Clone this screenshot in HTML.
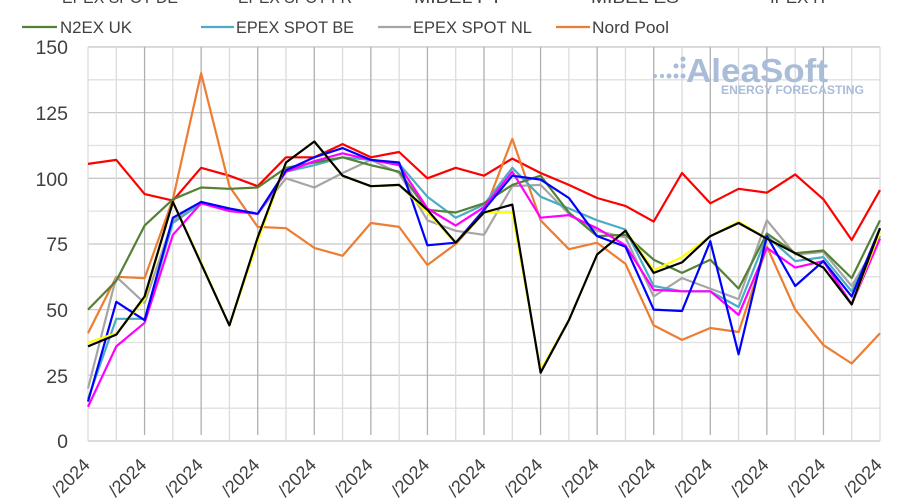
<!DOCTYPE html>
<html><head><meta charset="utf-8"><style>
html,body{margin:0;padding:0;background:#fff;width:900px;height:500px;overflow:hidden}
svg{display:block}
text{font-family:"Liberation Sans",sans-serif}
</style></head><body>
<svg id="c" width="900" height="500" xmlns="http://www.w3.org/2000/svg">
<g id="grid"></g>
<g font-weight="bold" fill="#a9bcd8">
 <circle cx="683" cy="59" r="2.5"/>
 <circle cx="676" cy="66" r="2.5"/><circle cx="683" cy="66" r="2.5"/>
 <circle cx="655" cy="76" r="2"/><circle cx="662" cy="76" r="2"/><circle cx="669" cy="76" r="2.5"/><circle cx="676" cy="76" r="2.5"/><circle cx="683" cy="76" r="2.5"/>
 <text x="686" y="82" font-size="33" textLength="142" lengthAdjust="spacingAndGlyphs">AleaSoft</text>
 <text x="721" y="94" font-size="11.5" textLength="143" lengthAdjust="spacingAndGlyphs">ENERGY FORECASTING</text>
</g>
<g id="series" fill="none" stroke-width="2.2" stroke-linejoin="round"></g>
<g fill="#404040" font-size="19.5" text-anchor="end">
 <text x="68" y="54">150</text><text x="68" y="120">125</text><text x="68" y="186">100</text>
 <text x="68" y="251">75</text><text x="68" y="317">50</text><text x="68" y="383">25</text><text x="68" y="448">0</text>
</g>
<g id="xl" fill="#404040" font-size="18" text-anchor="end"></g>
<g fill="#404040" font-size="17">
 <text x="62" y="3" textLength="116" lengthAdjust="spacingAndGlyphs">EPEX SPOT DE</text>
 <text x="238" y="3" textLength="114" lengthAdjust="spacingAndGlyphs">EPEX SPOT FR</text>
 <text x="414" y="3" textLength="88" lengthAdjust="spacingAndGlyphs">MIBEL PT</text>
 <text x="591" y="3" textLength="88" lengthAdjust="spacingAndGlyphs">MIBEL ES</text>
 <text x="770" y="3" textLength="58" lengthAdjust="spacingAndGlyphs">IPEX IT</text>
 <line x1="22" y1="27" x2="57" y2="27" stroke="#538135" stroke-width="2.2"/>
 <text x="60" y="33" textLength="72" lengthAdjust="spacingAndGlyphs">N2EX UK</text>
 <line x1="201" y1="27" x2="234" y2="27" stroke="#4bacc6" stroke-width="2.2"/>
 <text x="236" y="33" textLength="118" lengthAdjust="spacingAndGlyphs">EPEX SPOT BE</text>
 <line x1="378" y1="27" x2="411" y2="27" stroke="#a5a5a5" stroke-width="2.2"/>
 <text x="413" y="33" textLength="119" lengthAdjust="spacingAndGlyphs">EPEX SPOT NL</text>
 <line x1="556" y1="27" x2="590" y2="27" stroke="#ed7d31" stroke-width="2.2"/>
 <text x="592" y="33" textLength="77" lengthAdjust="spacingAndGlyphs">Nord Pool</text>
</g>
</svg>
<script>
var NS="http://www.w3.org/2000/svg";
function el(t,a,p){var e=document.createElementNS(NS,t);for(var k in a)e.setAttribute(k,a[k]);p.appendChild(e);return e;}
var X0=88,DX=28.286,Y0=441,K=2.627;
var g=document.getElementById('grid');
for(var i=0;i<=12;i++){var y=Y0-i*12.5*K;el('line',{x1:X0,x2:880,y1:y,y2:y,stroke:i%2==0?'#c8c8c8':'#e0e0e0','stroke-width':1.3},g);}
for(var i=0;i<=28;i++){var x=X0+i*DX;var dark=(i%2==0&&i>0&&i<28);el('line',{x1:x,x2:x,y1:47,y2:dark?435:441,stroke:dark?'#b0b0b0':'#dcdcdc','stroke-width':1.3},g);}
var S=[
['#ff0000',[105.5,107,94,91.5,104,101,97,108,108,113,108,110,100,104,101,107.5,102,97.5,92.5,89.5,83.5,102,90.5,96,94.5,101.5,92,76.5,95.5]],
['#ed7d31',[41,62.5,62,92,140,97,81.5,81,73.5,70.5,83,81.5,67,75,87,115,84,73,75.5,67.5,44,38.5,43,41.5,74,50,36.5,29.5,41]],
['#a5a5a5',[20,62.5,52.5,84,91,88,86.5,100,96.5,102,107,102,84,80,78.5,97,97.5,86.5,80,77.5,55,62,58,54,84,71,72,59,77]],
['#4bacc6',[16,46.5,46.5,83,90.5,88,86.5,102.5,105,108,107,105.5,93,85,90,104,93,88.5,84,80.5,59,57,57,51,78,68.5,70,57,78]],
['#538135',[50,61,82,92,96.5,96,96.5,104,106,108,105,102.5,88,87,90.5,97.5,101,87,78,78.5,69,64,69,58,79,71.5,72.5,62,84]],
['#ff00ff',[13,36,45,78.5,90.5,87.5,86.5,102.5,106.5,109.5,107,105,88.5,82,89,102.5,85,86,81,74.5,57.5,57,57,48,73.5,66,68.5,52,77]],
['#0000ff',[15,53,46,85,91,88.5,86.5,103,108,111.5,107,106,74.5,75.5,88,101,99.5,92.5,78,74,50,49.5,76,33,78,59,68.5,55,81]],
['#ffff00',[37.5,41,54,91,68,44,76,106,114,101,97,97.5,87,75.5,87,87,27,46,71,80,65,70,78,83.5,77,71.5,66,52,79.5]],
['#000000',[36,40.5,55,91,67.5,44,77.5,106,114,101,97,97.5,88,75.5,87,90,26,46,71,80,64,68,78,83,77,71.5,66,52,81]]];
var sg=document.getElementById('series');
S.forEach(function(s){var p=s[1].map(function(v,i){return (X0+i*DX).toFixed(1)+','+(Y0-v*K).toFixed(1)}).join(' ');el('polyline',{points:p,stroke:s[0]},sg);});
var xl=document.getElementById('xl');
for(var i=0;i<=28;i+=2){var x=X0+i*DX+3,y=466;var t=el('text',{x:x,y:y,transform:'rotate(-45 '+x+' '+y+')'},xl);t.textContent='/2024';}
</script>
</body></html>
